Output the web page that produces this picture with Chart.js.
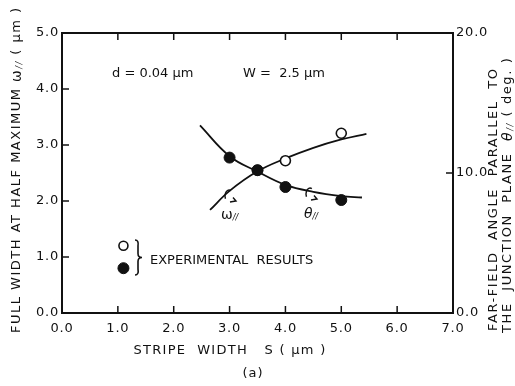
<!DOCTYPE html>
<html>
<head>
<meta charset="utf-8">
<script src="https://cdn.jsdelivr.net/npm/chart.js@4"></script>
<style>
  html, body { margin: 0; padding: 0; background: #fff; }
  #wrap { width: 515px; height: 386px; position: relative; }
</style>
</head>
<body>
<div id="wrap"><canvas id="c"></canvas></div>
<script>
// axis ranges / ticks
const xTicks     = [0, 1, 2, 3, 4, 5, 6, 7];
const leftTicks  = [0, 1, 2, 3, 4, 5];
const rightTicks = [0, 10, 20];

// measured points (stripe width S in µm)
const omegaX = [3.5, 4.0, 5.0];          // open circles, left axis (µm)
const omegaY = [2.55, 2.72, 3.21];
const thetaX = [3.0, 3.5, 4.0, 5.0];     // filled circles, right axis (deg)
const thetaY = [11.1, 10.2, 9.0, 8.07];

// fitted curves
const omegaCurveX = [2.65, 3.0, 3.5, 4.0, 4.5, 5.0, 5.45];
const omegaCurveY = [1.84, 2.18, 2.53, 2.76, 2.95, 3.1, 3.2];
const thetaCurveX = [2.47, 3.0, 3.5, 4.0, 4.5, 5.0, 5.37];
const thetaCurveY = [13.4, 11.2, 10.1, 9.15, 8.65, 8.35, 8.25];

// legend markers inside the plot
const legendX     = [1.1];
const legendOpenY = [1.2];
const legendFillY = [0.8];

const INK = '#111';
const FONT = '"DejaVu Sans", sans-serif';

const pts = (xs, ys) => xs.map((x, i) => ({ x, y: ys[i] }));

function textRuns(ctx, parts, x, y, rot, align, spacing) {
  ctx.save();
  ctx.translate(x, y);
  ctx.rotate(rot);
  ctx.letterSpacing = spacing || '0px';
  ctx.fillStyle = INK;
  ctx.textBaseline = 'middle';
  ctx.textAlign = 'left';
  let w = 0;
  parts.forEach(p => { ctx.font = p.f; w += ctx.measureText(p.t).width; });
  let cx = align === 'center' ? -w / 2 : (align === 'right' ? -w : 0);
  parts.forEach(p => {
    ctx.font = p.f;
    ctx.fillText(p.t, cx, p.dy || 0);
    cx += ctx.measureText(p.t).width;
  });
  ctx.restore();
}

function curl(ctx, x, y) {
  ctx.save();
  ctx.strokeStyle = INK;
  ctx.lineWidth = 1.4;
  ctx.beginPath();
  ctx.ellipse(x, y, 4, 6, 0, -Math.PI * 0.35, Math.PI * 0.85, true);
  ctx.stroke();
  // arrow head at lower right
  ctx.beginPath();
  ctx.moveTo(x + 1, y + 6);
  ctx.lineTo(x + 7, y + 5);
  ctx.lineTo(x + 4, y + 1.5);
  ctx.stroke();
  ctx.restore();
}

const deco = {
  id: 'deco',
  beforeDraw(chart) { chart.ctx.letterSpacing = '0.8px'; },
  afterDraw(chart) {
    const { ctx, chartArea: a, scales } = chart;
    ctx.save();
    ctx.letterSpacing = '0px';
    ctx.strokeStyle = INK;
    ctx.lineWidth = 2;
    ctx.strokeRect(a.left, a.top, a.right - a.left, a.bottom - a.top);

    // inward tick marks
    ctx.lineWidth = 1.5;
    const seg = (x1, y1, x2, y2) => { ctx.beginPath(); ctx.moveTo(x1, y1); ctx.lineTo(x2, y2); ctx.stroke(); };
    scales.x.ticks.forEach(t => {
      const px = scales.x.getPixelForValue(t.value);
      seg(px, a.bottom, px, a.bottom - 7);
      seg(px, a.top, px, a.top + 7);
    });
    scales.y.ticks.forEach(t => {
      const py = scales.y.getPixelForValue(t.value);
      seg(a.left, py, a.left + 7, py);
    });
    scales.y1.ticks.forEach(t => {
      const py = scales.y1.getPixelForValue(t.value);
      seg(a.right, py, a.right - 7, py);
    });
    ctx.restore();

    const f12 = '12px ' + FONT;
    const f13 = '13px ' + FONT;
    const fSub = 'italic 8px ' + FONT;

    // axis titles
    textRuns(ctx, [
      { t: 'FULL WIDTH AT HALF MAXIMUM ', f: f13 },
      { t: 'ω', f: '14px ' + FONT },
      { t: '//', f: fSub, dy: 3 },
      { t: ' ( µm )', f: f13 }
    ], 17, 333, -Math.PI / 2, 'left', '1.5px');

    textRuns(ctx, [{ t: 'FAR-FIELD  ANGLE  PARALLEL  TO', f: f13 }],
      494, 331, -Math.PI / 2, 'left', '1.6px');
    textRuns(ctx, [
      { t: 'THE  JUNCTION  PLANE  ', f: f13 },
      { t: 'θ', f: 'italic 14px ' + FONT },
      { t: '//', f: fSub, dy: 3 },
      { t: ' ( deg. )', f: f13 }
    ], 508, 333, -Math.PI / 2, 'left', '1.6px');

    textRuns(ctx, [{ t: 'STRIPE  WIDTH   S ( µm )', f: f13 }], 230, 351, 0, 'center', '1.3px');
    textRuns(ctx, [{ t: '(a)', f: f13 }], 253, 374, 0, 'center', '1px');

    // annotations
    textRuns(ctx, [{ t: 'd = 0.04 µm', f: f13 }], 112, 74, 0, 'left', '0px');
    textRuns(ctx, [{ t: 'W =  2.5 µm', f: f13 }], 243, 74, 0, 'left', '0px');

    textRuns(ctx, [{ t: 'ω', f: '14px ' + FONT }, { t: '//', f: fSub, dy: 3 }], 221, 215, 0, 'left', '0px');
    textRuns(ctx, [{ t: 'θ', f: 'italic 14px ' + FONT }, { t: '//', f: fSub, dy: 3 }], 304, 214, 0, 'left', '0px');
    curl(ctx, 229, 196);
    curl(ctx, 310, 194);

    // legend brace + text
    ctx.save();
    ctx.strokeStyle = INK;
    ctx.lineWidth = 1.6;
    const bx = 137, by1 = 240, by2 = 275, bm = (by1 + by2) / 2;
    ctx.beginPath();
    ctx.moveTo(bx - 2, by1);
    ctx.quadraticCurveTo(bx + 2, by1, bx + 1, by1 + 6);
    ctx.lineTo(bx + 1, bm - 4);
    ctx.quadraticCurveTo(bx + 1, bm, bx + 5, bm);
    ctx.quadraticCurveTo(bx + 1, bm, bx + 1, bm + 4);
    ctx.lineTo(bx + 1, by2 - 6);
    ctx.quadraticCurveTo(bx + 2, by2, bx - 2, by2);
    ctx.stroke();
    ctx.restore();
    textRuns(ctx, [{ t: 'EXPERIMENTAL  RESULTS', f: f13 }], 150, 261, 0, 'left', '0px');
  }
};

new Chart(document.getElementById('c'), {
  type: 'scatter',
  data: {
    datasets: [
      {
        label: 'ω curve', type: 'line', data: pts(omegaCurveX, omegaCurveY), yAxisID: 'y',
        borderColor: INK, borderWidth: 1.8, pointRadius: 0, tension: 0.4, order: 5
      },
      {
        label: 'θ curve', type: 'line', data: pts(thetaCurveX, thetaCurveY), yAxisID: 'y1',
        borderColor: INK, borderWidth: 1.8, pointRadius: 0, tension: 0.4, order: 4
      },
      {
        label: 'ω measured', data: pts(omegaX, omegaY), yAxisID: 'y',
        pointRadius: 5, pointBackgroundColor: '#fff', pointBorderColor: INK, pointBorderWidth: 1.6, order: 3
      },
      {
        label: 'θ measured', data: pts(thetaX, thetaY), yAxisID: 'y1',
        pointRadius: 5.5, pointBackgroundColor: INK, pointBorderColor: INK, pointBorderWidth: 1, order: 2
      },
      {
        label: 'legend open', data: pts(legendX, legendOpenY), yAxisID: 'y',
        pointRadius: 4.5, pointBackgroundColor: '#fff', pointBorderColor: INK, pointBorderWidth: 1.6, order: 1
      },
      {
        label: 'legend filled', data: pts(legendX, legendFillY), yAxisID: 'y',
        pointRadius: 5.5, pointBackgroundColor: INK, pointBorderColor: INK, pointBorderWidth: 1, order: 1
      }
    ]
  },
  options: {
    responsive: true,
    maintainAspectRatio: false,
    animation: false,
    layout: { padding: { top: 33, left: 0, right: 0, bottom: 0 } },
    plugins: { legend: { display: false }, tooltip: { enabled: false } },
    scales: {
      x: {
        type: 'linear', min: 0, max: 7,
        afterBuildTicks: s => { s.ticks = xTicks.map(v => ({ value: v })); },
        afterFit: s => { s.height = 73; },
        grid: { drawOnChartArea: false, drawTicks: false },
        border: { display: false },
        ticks: { padding: 8, color: INK, font: { family: FONT, size: 13 }, callback: v => v.toFixed(1) }
      },
      y: {
        type: 'linear', position: 'left', min: 0, max: 5,
        afterBuildTicks: s => { s.ticks = leftTicks.map(v => ({ value: v })); },
        afterFit: s => { s.width = 62; },
        grid: { drawOnChartArea: false, drawTicks: false },
        border: { display: false },
        ticks: { padding: 3, color: INK, font: { family: FONT, size: 13 }, callback: v => v.toFixed(1) }
      },
      y1: {
        type: 'linear', position: 'right', min: 0, max: 20,
        afterBuildTicks: s => { s.ticks = rightTicks.map(v => ({ value: v })); },
        afterFit: s => { s.width = 62; },
        grid: { drawOnChartArea: false, drawTicks: false },
        border: { display: false },
        ticks: { padding: 3, color: INK, font: { family: FONT, size: 13 }, callback: v => v.toFixed(1) }
      }
    }
  },
  plugins: [deco]
});
</script>
</body>
</html>
